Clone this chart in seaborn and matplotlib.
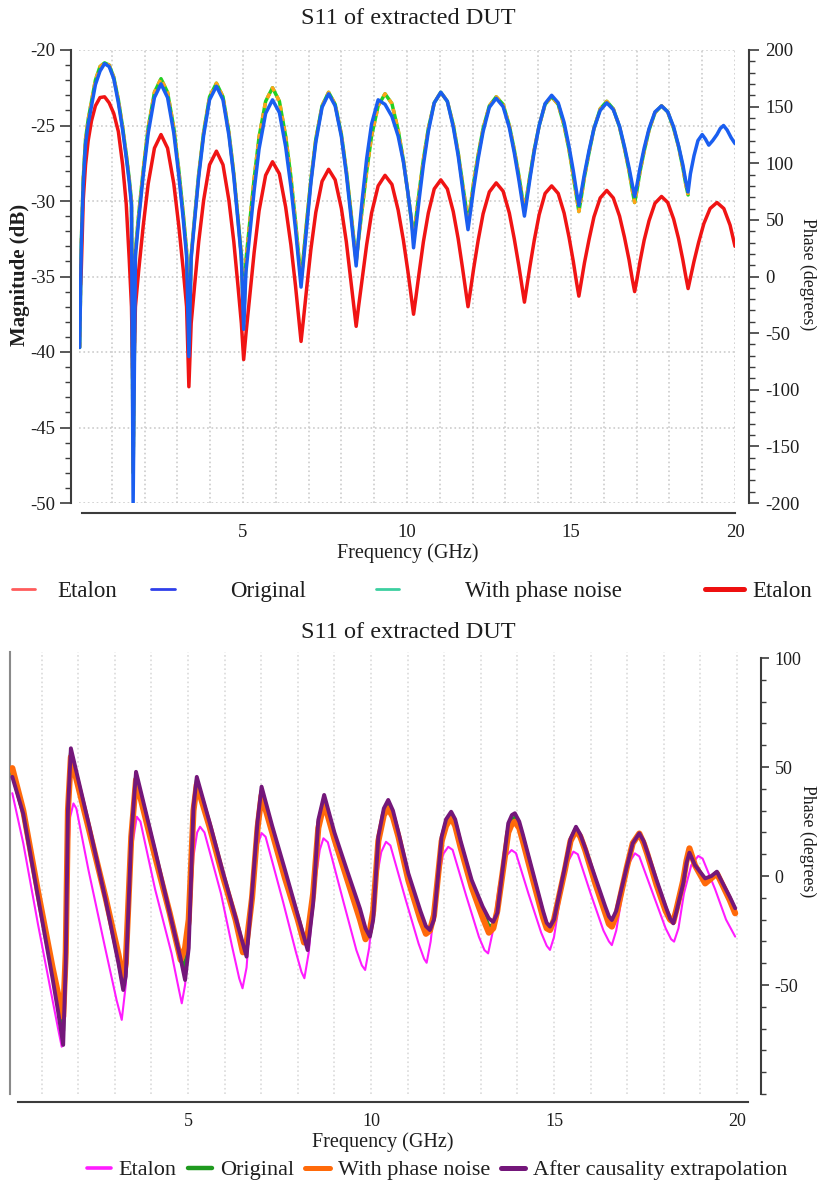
import matplotlib
matplotlib.use("Agg")
import matplotlib.pyplot as plt
from matplotlib.lines import Line2D
from matplotlib.ticker import FixedLocator
import seaborn as sns

# ---------------- data: top panel (magnitude, dB) ----------------
top_freq = [
    0.02, 0.07, 0.13, 0.20, 0.28, 0.38, 0.50, 0.64, 0.78, 0.92, 1.06, 1.20, 1.33, 1.44, 1.53, 1.60, 1.65,
    1.72, 1.82, 1.96, 2.11, 2.30, 2.50, 2.70, 2.89, 3.04, 3.18, 3.28, 3.35,
    3.42, 3.52, 3.65, 3.80, 3.98, 4.19, 4.39, 4.57, 4.72, 4.85, 4.95, 5.02,
    5.09, 5.20, 5.34, 5.49, 5.69, 5.90, 6.11, 6.30, 6.46, 6.60, 6.70, 6.77,
    6.84, 6.94, 7.07, 7.22, 7.41, 7.61, 7.81, 8.00, 8.15, 8.28, 8.38, 8.45,
    8.52, 8.63, 8.77, 8.92, 9.12, 9.33, 9.54, 9.73, 9.89, 10.03, 10.13, 10.20,
    10.27, 10.37, 10.50, 10.65, 10.83, 11.03, 11.23, 11.41, 11.56, 11.69, 11.79, 11.86,
    11.93, 12.03, 12.17, 12.32, 12.51, 12.72, 12.93, 13.12, 13.27, 13.41, 13.51, 13.58,
    13.65, 13.75, 13.88, 14.03, 14.21, 14.41, 14.61, 14.79, 14.94, 15.07, 15.17, 15.24,
    15.31, 15.41, 15.55, 15.70, 15.89, 16.09, 16.29, 16.48, 16.63, 16.77, 16.87, 16.94,
    17.01, 17.10, 17.23, 17.38, 17.56, 17.76, 17.95, 18.13, 18.28, 18.41, 18.50, 18.57,
]
etalon_mag = [
    -36.5, -34.5, -29.9, -27.6, -26.0, -24.7, -23.7, -23.15, -23.1, -23.5, -24.2, -25.4, -27.6, -30.2, -33.8, -37.0, -43.3,
    -37.0, -34.6, -31.6, -28.85, -26.5, -25.6, -26.5, -28.85, -31.6, -34.6, -37.0, -42.3,
    -38.1, -35.7, -32.7, -29.95, -27.6, -26.7, -27.6, -29.95, -32.7, -35.7, -38.1, -40.5,
    -38.8, -36.4, -33.4, -30.65, -28.3, -27.4, -28.2, -30.4, -32.9, -35.6, -37.8, -39.3,
    -37.9, -35.8, -33.2, -30.75, -28.7, -27.9, -28.6, -30.5, -32.7, -35.1, -37.0, -38.3,
    -37.05, -35.2, -32.9, -30.8, -29.0, -28.3, -28.9, -30.6, -32.6, -34.7, -36.35, -37.5,
    -36.4, -34.75, -32.7, -30.8, -29.2, -28.6, -29.2, -30.7, -32.5, -34.4, -35.95, -37.0,
    -36.0, -34.5, -32.6, -30.85, -29.4, -28.8, -29.35, -30.8, -32.5, -34.3, -35.7, -36.7,
    -35.7, -34.3, -32.6, -30.9, -29.5, -29.0, -29.5, -30.8, -32.4, -34.0, -35.4, -36.3,
    -35.4, -34.1, -32.55, -31.05, -29.8, -29.3, -29.8, -31.0, -32.4, -33.9, -35.2, -36.0,
    -35.2, -34.05, -32.6, -31.3, -30.15, -29.7, -30.1, -31.2, -32.5, -33.9, -35.0, -35.8,
]
etalon_tail_freq = [18.64, 18.75, 18.89, 19.05, 19.24, 19.45, 19.66, 19.85, 20.0]
etalon_tail_mag = [-35.1, -34.0, -32.75, -31.5, -30.5, -30.1, -30.5, -31.6, -33.0]

original_mag = [
    -39.7, -33.0, -28.8, -26.2, -24.9, -23.7, -22.3, -21.4, -20.9, -21.1, -21.9, -23.5, -25.3, -27.1, -28.7, -30.3, -50.1,
    -33.65, -31.25, -28.25, -25.5, -23.15, -22.25, -23.15, -25.5, -28.25, -31.25, -33.65, -40.3,
    -33.8, -31.4, -28.4, -25.65, -23.3, -22.4, -23.3, -25.65, -28.4, -31.4, -33.8, -38.5,
    -34.7, -32.3, -29.3, -26.55, -24.2, -23.3, -24.15, -26.4, -29.05, -31.85, -34.15, -35.7,
    -34.1, -31.75, -28.8, -26.1, -23.8, -22.9, -23.7, -25.75, -28.2, -30.8, -32.9, -34.3,
    -32.5, -30.0, -27.2, -24.9, -23.3, -23.6, -24.4, -25.7, -27.4, -29.5, -31.2, -33.1,
    -31.8, -29.9, -27.6, -25.4, -23.5, -22.8, -23.4, -25.1, -27.0, -29.1, -30.8, -31.9,
    -30.8, -29.2, -27.2, -25.4, -23.8, -23.2, -23.75, -25.15, -26.8, -28.6, -30.0, -31.0,
    -30.0, -28.5, -26.7, -25.0, -23.55, -23.0, -23.5, -24.8, -26.4, -28.0, -29.4, -30.3,
    -29.45, -28.2, -26.65, -25.2, -24.0, -23.5, -23.95, -25.05, -26.4, -27.8, -28.9, -29.7,
    -28.95, -27.85, -26.5, -25.2, -24.1, -23.7, -24.1, -25.1, -26.35, -27.6, -28.7, -29.4,
]
original_tail_freq = [18.64, 18.75, 18.87, 19.0, 19.1, 19.2, 19.32, 19.45, 19.55, 19.65, 19.76, 19.88, 20.0]
original_tail_mag = [-28.2, -27.0, -26.0, -25.6, -25.9, -26.3, -26.0, -25.6, -25.2, -25.0, -25.3, -25.8, -26.2]

noise_mag = [
    -39.7, -32.8, -28.5, -25.9, -24.6, -23.4, -22.0, -21.1, -20.85, -21.0, -21.8, -23.3, -25.1, -26.9, -28.5, -30.0, -48.0,
    -33.3, -30.9, -27.9, -25.15, -22.8, -21.9, -22.8, -25.15, -27.9, -30.9, -33.3, -40.0,
    -33.6, -31.2, -28.2, -25.45, -23.1, -22.2, -23.1, -25.45, -28.2, -31.2, -33.6, -38.0,
    -33.9, -31.5, -28.5, -25.75, -23.4, -22.5, -23.4, -25.7, -28.4, -31.35, -33.7, -35.3,
    -33.7, -31.4, -28.6, -25.9, -23.7, -22.8, -23.6, -25.6, -28.0, -30.5, -32.6, -34.0,
    -32.6, -30.6, -28.05, -25.7, -23.7, -22.9, -23.55, -25.3, -27.3, -29.5, -31.2, -32.4,
    -31.2, -29.4, -27.25, -25.2, -23.5, -22.8, -23.4, -24.95, -26.8, -28.75, -30.3, -31.4,
    -30.4, -28.8, -26.95, -25.2, -23.7, -23.1, -23.6, -25.0, -26.6, -28.3, -29.7, -30.6,
    -29.7, -28.3, -26.6, -25.0, -23.6, -23.1, -23.6, -25.0, -26.6, -28.35, -29.75, -30.7,
    -29.8, -28.4, -26.8, -25.2, -23.9, -23.4, -23.9, -25.1, -26.5, -28.0, -29.3, -30.1,
    -29.3, -28.1, -26.7, -25.3, -24.15, -23.7, -24.1, -25.2, -26.4, -27.8, -28.9, -29.6,
]

top_legend_labels = ["Etalon", "Original", "With phase noise", "Etalon"]

# ---------------- data: bottom panel (phase, degrees) ----------------
bot_freq = [
    0.2, 0.5, 0.9, 1.3, 1.45, 1.59,
    1.66, 1.72, 1.80, 2.3, 2.75, 3.1, 3.23,
    3.3, 3.45, 3.58, 4.1, 4.5, 4.8, 4.92,
    5.02, 5.15, 5.24, 5.6, 5.95, 6.3, 6.5, 6.6,
    6.75, 6.9, 7.01, 7.3, 7.65, 8.0, 8.17, 8.27,
    8.42, 8.56, 8.72, 9.0, 9.34, 9.7, 9.85, 9.97,
    10.06, 10.2, 10.35, 10.47, 10.6, 10.75, 11.02, 11.35, 11.5, 11.61,
    11.72, 11.93, 12.05, 12.19, 12.3, 12.45, 12.75, 13.05, 13.22, 13.34,
    13.45, 13.75, 13.85, 13.93, 14.05, 14.15, 14.43, 14.7, 14.8, 14.89,
    15.0, 15.3, 15.45, 15.6, 15.72, 15.85, 16.12, 16.4, 16.5, 16.58,
    16.7, 16.99, 17.15, 17.33, 17.45, 17.55, 17.8, 18.05, 18.17, 18.26,
    18.35, 18.53, 18.62, 18.7, 18.85, 19.13, 19.3, 19.45, 19.6, 19.8, 19.95,
]
causal_phase = [
    45.5, 28.5, -9.5, -47, -62, -77.5,
    -40, 30, 58.6, 23, -11, -40, -52.3,
    -46, 18, 47.8, 11.9, -17, -38, -47.7,
    -33, 31.8, 45.5, 24, 2, -19, -31, -37,
    -8, 25, 41, 23, 2.8, -18, -28, -34,
    -12.5, 25.7, 37.2, 20, 2.8, -15, -24, -27.8,
    -20, 18, 31, 34.9, 30, 20, 1.2, -16, -23, -24.8,
    -20, 18, 26, 29.5, 26, 16, -1.8, -14, -19.5, -21,
    -17, 24.2, 28, 28.8, 25, 19, 1.2, -16, -21.5, -23.2,
    -20, 4.3, 17, 22.6, 19, 13, -0.3, -14, -18.5, -20.2,
    -16, 4.3, 15, 19.6, 16, 11, -1.8, -14, -19.5, -21.7,
    -16, -3.4, 6, 10.7, 5, -1.1, 0, 2.0, -3, -9.5, -14.8,
]
noisy_phase = [
    49.5, 30, -7, -42, -54, -64.6,
    -35, 30, 54.6, 21, -10, -36, -47.7,
    -40, 18, 44.1, 9, -17, -38.5, -33,
    -20, 30, 42, 22, 0, -20, -35, -31,
    -10, 22, 37, 20, -1, -20, -30.5, -27,
    -8, 22, 33.6, 17, -1, -20, -29, -25,
    -16, 16, 28, 31, 27, 18, -2, -20, -26.5, -25,
    -18, 16, 23, 27, 23, 13, -5, -19, -26, -24,
    -16, 20, 24, 24.9, 22, 16, -2, -19, -24, -24.8,
    -20, 3, 16, 21, 18, 12, -3, -17, -22, -23.2,
    -18, 4, 15, 19.5, 15, 10, -4, -16, -20, -21,
    -15, -2, 7, 12.7, 5, -3.4, -1, 1.2, -4, -11, -17.1,
]
orig_phase = [
    47, 29, -8, -44, -58, -71,
    -38, 30, 56.5, 22, -10.5, -38, -50,
    -43, 18, 46, 10.5, -17, -38, -42,
    -27, 31, 44, 23, 1, -19.5, -33, -34,
    -9, 23.5, 39, 21.5, 1, -19, -29, -30.5,
    -10, 24, 35.4, 18.5, 1, -17.5, -26, -27,
    -18, 17, 29.5, 33, 28.5, 19, -0.4, -18, -25, -25,
    -19, 17, 24.5, 28.2, 24.5, 14.5, -3.4, -16.5, -23, -22.5,
    -16.5, 22, 26, 26.8, 23.5, 17.5, -0.4, -17.5, -22.8, -24,
    -20, 3.6, 16.5, 21.8, 18.5, 12.5, -1.6, -15.5, -20.3, -21.7,
    -17, 4.1, 15, 19.5, 15.5, 10.5, -2.9, -15, -19.8, -21.3,
    -15.5, -2.7, 6.5, 11.7, 5, -2.2, -0.5, 1.6, -3.5, -10.2, -16,
]
etalon_freq = [
    0.2, 0.5, 0.9, 1.3, 1.45, 1.55, 1.62, 1.69, 1.78, 1.87, 1.95,
    2.28, 2.73, 3.05, 3.19, 3.3, 3.46, 3.6, 3.7,
    4.1, 4.55, 4.75, 4.83, 4.92, 5.01, 5.15, 5.25, 5.33, 5.45,
    5.9, 6.2, 6.4, 6.49, 6.6, 6.75, 6.9, 7.01, 7.12,
    7.6, 7.95, 8.1, 8.18, 8.3, 8.45, 8.6, 8.7, 8.82,
    9.25, 9.6, 9.75, 9.84, 9.95, 10.1, 10.28, 10.41, 10.53,
    10.95, 11.3, 11.45, 11.52, 11.63, 11.8, 11.97, 12.11, 12.23,
    12.6, 12.95, 13.1, 13.2, 13.32, 13.5, 13.68, 13.84, 13.96,
    14.3, 14.65, 14.8, 14.89, 15.0, 15.12, 15.3, 15.53, 15.65,
    16.0, 16.35, 16.5, 16.58, 16.7, 16.85, 17.02, 17.21, 17.33,
    17.7, 18.05, 18.2, 18.28, 18.4, 18.55, 18.75, 18.94, 19.06,
    19.4, 19.7, 19.95,
]
etalon_phase = [
    38, 15, -22, -57, -70, -78.3, -45, -2, 27, 33.3, 31,
    2.8, -32.5, -57, -66, -50, 12, 27.2, 25,
    -6, -35.5, -52, -58.4, -50, -32, 9, 20, 22.6, 20,
    -8, -32, -47, -51.5, -42, -8, 14, 19.7, 18,
    -12, -35, -44, -46.9, -35, -6, 12, 17.3, 15.5,
    -12, -34, -41, -43.1, -33, -6, 11, 15.7, 14,
    -11, -31, -38, -39.8, -30, -5, 10, 13.4, 12,
    -9, -28, -34, -35.5, -26, -4, 9, 11.9, 10.5,
    -8, -26, -32, -33.9, -28, -15, 4, 11.2, 10,
    -8, -25, -30, -31.7, -25, -10, 5, 10.4, 9,
    -8, -24, -29, -30.1, -24, -8, 5, 9.2, 8,
    -6, -20, -27.8,
]
bottom_legend_labels = ["Etalon", "Original", "With phase noise",
                        "After causality extrapolation"]

assert len(top_freq) == len(etalon_mag) == len(original_mag) == len(noise_mag)
assert len(etalon_tail_freq) == len(etalon_tail_mag)
assert len(original_tail_freq) == len(original_tail_mag)
assert len(bot_freq) == len(causal_phase) == len(noisy_phase) == len(orig_phase)
assert len(etalon_freq) == len(etalon_phase)

# ---------------- style ----------------
sns.set_style("white")
plt.rcParams['font.family'] = ['Liberation Serif', 'DejaVu Serif']
plt.rcParams['axes.unicode_minus'] = False

W, H = 817, 1189
fig = plt.figure(figsize=(W / 100, H / 100), dpi=100)


def fx(px):
    return px / W


def fy(py):
    return 1 - py / H


TXT = '#1e1e1e'
SPN = '#3c3c3c'
GRID = '#cccccc'


def draw(ax, x, y, color, lw, z, dash=None):
    sns.lineplot(x=x, y=y, ax=ax, color=color, linewidth=lw, estimator=None,
                 sort=False, legend=False)
    ln = ax.lines[-1]
    ln.set_zorder(z)
    ln.set_solid_joinstyle('round')
    ln.set_solid_capstyle('round')
    if dash is not None:
        ln.set_linestyle(dash)
    return ln


# ================= TOP PANEL =================
ax1 = fig.add_axes([fx(79), fy(503), (735 - 79) / W, (503 - 50) / H])
ax1.set_xlim(0, 20)
ax1.set_ylim(-50, -20)
ax1.set_axisbelow(True)

draw(ax1, top_freq + etalon_tail_freq, etalon_mag + etalon_tail_mag, '#f01414', 2.5, 3)
draw(ax1, top_freq, noise_mag, '#22d022', 2.5, 2)
draw(ax1, top_freq, noise_mag, '#ffa418', 2.5, 2.1, dash=(0, (1.5, 1.5)))
draw(ax1, top_freq + original_tail_freq, original_mag + original_tail_mag, '#1a5ef0', 2.5, 4)

for s in ['top', 'right']:
    ax1.spines[s].set_visible(False)
ax1.spines['left'].set_position(('outward', 6))
ax1.spines['left'].set_bounds(-50, -20)
ax1.spines['bottom'].set_position(('outward', 7))
ax1.spines['bottom'].set_bounds(0.1, 20)
for s in ['left', 'bottom']:
    ax1.spines[s].set_color(SPN)
    ax1.spines[s].set_linewidth(1.5)

ax1.set_xticks([5, 10, 15, 20])
ax1.xaxis.set_minor_locator(FixedLocator([i for i in range(1, 20) if i % 5]))
ax1.tick_params(axis='x', which='both', length=5, width=1.2, color=SPN,
                direction='out', pad=3, labelsize=13.5, labelcolor=TXT)
ax1.set_yticks(list(range(-50, -19, 5)))
ax1.yaxis.set_minor_locator(FixedLocator([v for v in range(-49, -20) if v % 5]))
ax1.tick_params(axis='y', which='major', length=8, width=1.2, color=SPN,
                direction='out', pad=3, labelsize=13.5, labelcolor=TXT)
ax1.tick_params(axis='y', which='minor', length=4, width=1.0, color=SPN, direction='out')
ax1.grid(True, which='both', axis='x', ls=':', color=GRID, lw=1.2)
ax1.grid(True, which='major', axis='y', ls=':', color=GRID, lw=1.2)
ax1.set_xlabel('')
ax1.set_ylabel('')

ax1r = ax1.twinx()
ax1r.set_ylim(-200, 200)
for s in ['top', 'left', 'bottom']:
    ax1r.spines[s].set_visible(False)
ax1r.spines['right'].set_position(('outward', 10))
ax1r.spines['right'].set_bounds(-200, 200)
ax1r.spines['right'].set_color(SPN)
ax1r.spines['right'].set_linewidth(1.5)
ax1r.set_yticks(list(range(-200, 201, 50)))
ax1r.yaxis.set_minor_locator(FixedLocator([v for v in range(-190, 200, 10) if v % 50]))
ax1r.tick_params(axis='y', which='major', length=7, width=1.2, color=SPN,
                 direction='out', pad=5, labelsize=13.5, labelcolor=TXT)
ax1r.tick_params(axis='y', which='minor', length=4, width=1.0, color=SPN, direction='out')
ax1r.grid(False)

fig.text(fx(408), fy(18), 'S11 of extracted DUT', ha='center', va='center',
         fontsize=17.5, color=TXT)
fig.text(fx(408), fy(553), 'Frequency (GHz)', ha='center', va='center',
         fontsize=14.5, color=TXT)
fig.text(fx(20), fy(275), 'Magnitude (dB)', ha='center', va='center', rotation=90,
         fontsize=15, fontweight='bold', color=TXT)
fig.text(fx(808), fy(274), 'Phase (degrees)', ha='center', va='center', rotation=270,
         fontsize=12.8, color=TXT)

# top legend (four separately placed entries)
EM = 16.5 * 100 / 72
top_items = [
    (12, '#ff5c5c', 2.0, 23, 22),
    (151, '#2f40ea', 2.0, 24, 55),
    (376, '#3ccfa0', 2.0, 23, 66),
    (705, '#ee1010', 3.6, 39, 8),
]
for (xh, col, lw, hl, gap), lab in zip(top_items, top_legend_labels):
    fig.legend(handles=[Line2D([], [], color=col, lw=lw)], labels=[lab],
               loc='center left', bbox_to_anchor=(fx(xh), fy(591)), frameon=False,
               fontsize=16.5, handlelength=hl / EM, handletextpad=gap / EM,
               borderpad=0, borderaxespad=0, labelcolor=TXT)

# ================= BOTTOM PANEL =================
ax2 = fig.add_axes([fx(10), fy(1094), (748 - 10) / W, (1094 - 651.5) / H])
ax2.set_xlim(0.137, 20.3)
ax2.set_ylim(-100, 103)
ax2.set_axisbelow(True)

draw(ax2, etalon_freq, etalon_phase, '#ff1cff', 1.5, 2)
draw(ax2, bot_freq, orig_phase, '#1f9a1f', 2.8, 3)
draw(ax2, bot_freq, noisy_phase, '#ff6a0a', 4.4, 4)
draw(ax2, bot_freq, causal_phase, '#74177a', 2.8, 5)

ax2.yaxis.tick_right()
ax2.spines['top'].set_visible(False)
ax2.spines['right'].set_position(('outward', 9))
ax2.spines['right'].set_bounds(-100, 100)
ax2.spines['bottom'].set_position(('outward', 6))
ax2.spines['bottom'].set_bounds(0.36, 20.3)
ax2.spines['left'].set_color('#8a8a8a')
ax2.spines['left'].set_linewidth(1.5)
for s in ['right', 'bottom']:
    ax2.spines[s].set_color(SPN)
    ax2.spines[s].set_linewidth(1.5)

ax2.set_xticks([5, 10, 15, 20])
ax2.xaxis.set_minor_locator(FixedLocator([i for i in range(1, 21) if i % 5]))
ax2.tick_params(axis='x', which='both', length=5, width=1.2, color=SPN,
                direction='out', pad=3, labelsize=13, labelcolor=TXT)
ax2.set_yticks([-50, 0, 50, 100])
ax2.yaxis.set_minor_locator(FixedLocator([v for v in range(-100, 100, 10) if v % 50 or v == -100]))
ax2.tick_params(axis='y', which='major', length=6, width=1.2, color=SPN,
                direction='out', pad=4, labelsize=13, labelcolor=TXT,
                left=False, right=True, labelleft=False, labelright=True)
ax2.tick_params(axis='y', which='minor', length=3.5, width=1.0, color=SPN,
                direction='out', left=False, right=True)
ax2.grid(True, which='both', axis='x', ls=':', color='#dadada', lw=1.2)
ax2.grid(False, axis='y')
ax2.set_xlabel('')
ax2.set_ylabel('')

fig.text(fx(408), fy(633), 'S11 of extracted DUT', ha='center', va='center',
         fontsize=17.5, color=TXT)
fig.text(fx(383), fy(1142), 'Frequency (GHz)', ha='center', va='center',
         fontsize=14.5, color=TXT)
fig.text(fx(808), fy(841), 'Phase (degrees)', ha='center', va='center', rotation=270,
         fontsize=12.8, color=TXT)

bot_handles = [Line2D([], [], color='#ff1cff', lw=2.6),
               Line2D([], [], color='#1f9a1f', lw=3.2),
               Line2D([], [], color='#ff6a0a', lw=3.6),
               Line2D([], [], color='#74177a', lw=3.6)]
fig.legend(handles=bot_handles, labels=bottom_legend_labels, ncol=4, loc='center',
           bbox_to_anchor=(fx(437), fy(1170)), frameon=False, fontsize=16,
           handlelength=1.1, handletextpad=0.35, columnspacing=0.5,
           borderpad=0, borderaxespad=0, labelcolor=TXT)

fig.savefig('out.png', dpi=100)
